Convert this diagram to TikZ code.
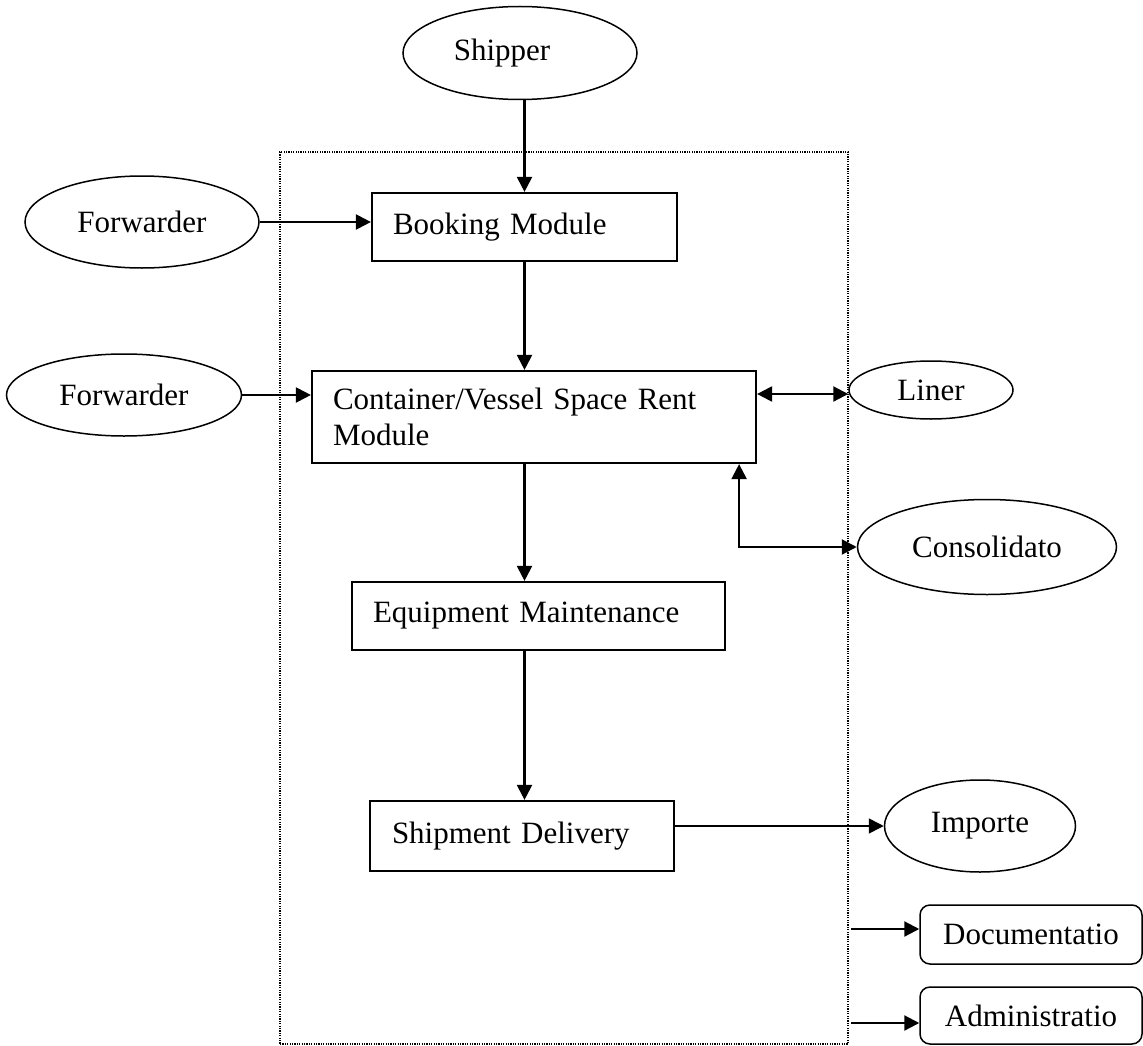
\documentclass[tikz,border=0pt]{standalone}
\usepackage{fontspec}
\setmainfont{Liberation Serif}
\usetikzlibrary{arrows.meta,shapes.geometric}

\tikzset{
  lbl/.style={font=\fontsize{31}{36}\selectfont},
  modbox/.style={lbl, draw, line width=2.2pt, rectangle, inner sep=0pt, align=left},
  actor/.style={lbl, draw, line width=1.5pt, ellipse, inner sep=0pt},
  dept/.style={lbl, draw, line width=1.5pt, rectangle, rounded corners=10pt, inner sep=0pt},
  frame/.style={draw, line width=1.3pt, dash pattern=on 1.2pt off 1.2pt, rectangle, inner sep=0pt},
  tip/.tip={Triangle[length=15pt,width=15pt]},
  flow/.style={line width=2.2pt, -tip},
  thinflow/.style={line width=1.5pt, -tip},
  bflow/.style={line width=2.2pt, tip-tip}
}
% one unbroken line of module text, indented from the left border
\newcommand{\modline}[2][21pt]{\hspace*{#1}\mbox{#2}}

\begin{document}
\begin{tikzpicture}[x=1pt, y=-1pt]
\useasboundingbox (0,0) rectangle (1143,1046);

% system boundary
\node[frame, minimum width=568pt, minimum height=892pt] (system) at (564,598) {};

% modules
\node[modbox, text width=305pt, minimum height=68pt] (booking) at (524.5,227) {\modline{Booking Module}};
\node[modbox, text width=444pt, minimum height=92pt] (rent) at (534,417) {\modline{Container/Vessel Space Rent}\\\modline{Module}};
\node[modbox, text width=373pt, minimum height=68pt] (equip) at (538.5,616) {\modline{Equipment Maintenance}};
\node[modbox, text width=304pt, minimum height=70pt] (delivery) at (522,836) {\modline[22pt]{Shipment Delivery}};

% external parties
\node[actor, minimum width=234pt, minimum height=93pt] (shipper) at (520,53) {Shipper\hspace*{36pt}};
\node[actor, minimum width=234pt, minimum height=92pt] (fwdA) at (142,222) {Forwarder};
\node[actor, minimum width=235pt, minimum height=82pt] (fwdB) at (124,395) {Forwarder};
\node[actor, minimum width=164pt, minimum height=58pt] (liner) at (931,390) {Liner};
\node[actor, minimum width=259pt, minimum height=95pt] (consol) at (987,547) {Consolidato};
\node[actor, minimum width=191pt, minimum height=92pt] (importer) at (980,826) {Importe};

% departments
\node[dept, minimum width=222pt, minimum height=59pt] (docs) at (1031,934.5) {Documentatio};
\node[dept, minimum width=222pt, minimum height=57pt] (admin) at (1031,1015.5) {Administratio};

% connector ends
\coordinate (rentup) at ([xshift=-18pt]rent.south east);
\coordinate (docsout) at (851,929);
\coordinate (adminout) at (851,1023);

% flows
\draw[flow] (booking.north |- shipper.south) -- (booking.north);
\draw[flow] (fwdA.east) -- (fwdA.east -| booking.west);
\draw[flow] (booking.south) -- (booking.south |- rent.north);
\draw[flow] (fwdB.east) -- (fwdB.east -| rent.west);
\draw[bflow] ([yshift=-4pt]liner.west -| rent.east) -- ([yshift=-4pt]liner.west);
\draw[bflow] (rentup) |- (consol.west);
\draw[flow] (rent.south -| booking.south) -- (equip.north -| booking.south);
\draw[flow] (equip.south -| booking.south) -- (delivery.north -| booking.south);
\draw[thinflow] (delivery.east |- importer.west) -- (importer.west);
\draw[flow] (docsout) -- (docsout -| docs.west);
\draw[flow] (adminout) -- (adminout -| admin.west);
\end{tikzpicture}
\end{document}
